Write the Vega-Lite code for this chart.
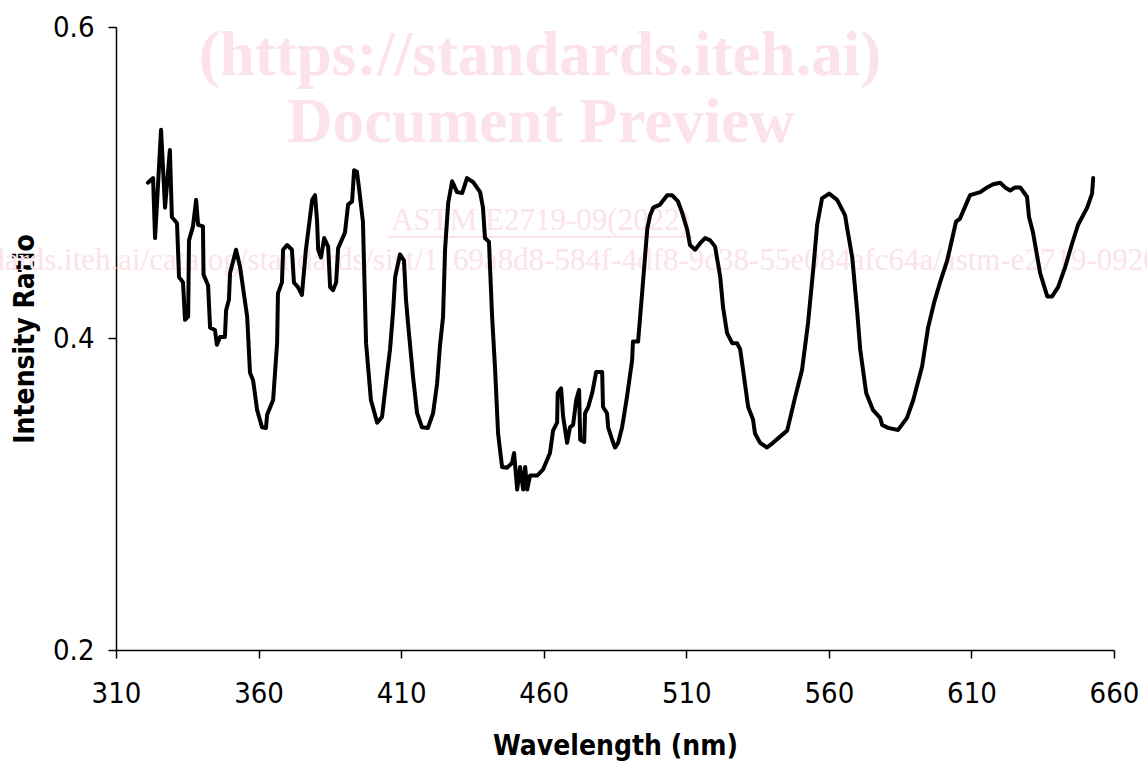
{
  "$schema": "https://vega.github.io/schema/vega-lite/v6.json",
  "width": 998,
  "height": 623,
  "autosize": "none",
  "padding": {"left": 116, "top": 27, "right": 33, "bottom": 111},
  "background": "white",
  "config": {
    "view": {"stroke": null},
    "axis": {
      "grid": false,
      "domainColor": "black",
      "domainWidth": 1.5,
      "tickColor": "black",
      "tickWidth": 1.5,
      "tickSize": 8,
      "labelColor": "black",
      "titleColor": "black",
      "labelFont": "DejaVu Sans Condensed, DejaVu Sans",
      "titleFont": "DejaVu Sans Condensed, DejaVu Sans",
      "labelFontSize": 29,
      "titleFontSize": 28,
      "titleFontWeight": "bold"
    }
  },
  "layer": [
    {
      "data": {"values": [
        {"t": "(https://standards.iteh.ai)", "wl": 458.7, "r": 0.5692},
        {"t": "Document Preview", "wl": 459.0, "r": 0.5262}
      ]},
      "mark": {"type": "text", "font": "Liberation Serif", "fontWeight": "bold", "fontSize": 63, "color": "#fbe3e9", "baseline": "alphabetic", "align": "center", "clip": false},
      "encoding": {
        "x": {"field": "wl", "type": "quantitative", "scale": {"domain": [310, 660]}},
        "y": {"field": "r", "type": "quantitative", "scale": {"domain": [0.2, 0.6]}},
        "text": {"field": "t"}
      }
    },
    {
      "data": {"values": [
        {"t": "ASTM E2719-09(2022)", "wl": 458.9, "r": 0.4697},
        {"t": "https://standards.iteh.ai/catalog/standards/sist/1169a8d8-584f-4df8-9c38-55e084afc64a/astm-e2719-092022", "wl": 452.2, "r": 0.444}
      ]},
      "mark": {"type": "text", "font": "Liberation Serif", "fontSize": 31, "color": "#fbe3e9", "baseline": "alphabetic", "align": "center", "clip": false},
      "encoding": {
        "x": {"field": "wl", "type": "quantitative"},
        "y": {"field": "r", "type": "quantitative"},
        "text": {"field": "t"}
      }
    },
    {
      "data": {"values": [{"a": 405.4, "b": 512.4, "r": 0.4652}]},
      "mark": {"type": "rule", "color": "#fbe3e9", "strokeWidth": 2},
      "encoding": {
        "x": {"field": "a", "type": "quantitative"},
        "x2": {"field": "b"},
        "y": {"field": "r", "type": "quantitative"}
      }
    },
    {
      "data": {"values": [
        {"wl": 321.2, "r": 0.500}, {"wl": 323.0, "r": 0.503}, {"wl": 323.7, "r": 0.4645}, {"wl": 325.8, "r": 0.534},
        {"wl": 327.2, "r": 0.484}, {"wl": 328.9, "r": 0.521}, {"wl": 329.6, "r": 0.478}, {"wl": 331.4, "r": 0.474},
        {"wl": 332.1, "r": 0.4395}, {"wl": 333.5, "r": 0.436}, {"wl": 334.2, "r": 0.412}, {"wl": 335.3, "r": 0.414},
        {"wl": 335.6, "r": 0.463}, {"wl": 337.0, "r": 0.472}, {"wl": 338.1, "r": 0.489}, {"wl": 338.8, "r": 0.473},
        {"wl": 340.5, "r": 0.472}, {"wl": 340.7, "r": 0.441}, {"wl": 342.3, "r": 0.434}, {"wl": 343.0, "r": 0.407},
        {"wl": 344.7, "r": 0.4055}, {"wl": 345.4, "r": 0.396}, {"wl": 346.5, "r": 0.401}, {"wl": 348.2, "r": 0.401},
        {"wl": 348.6, "r": 0.418}, {"wl": 349.6, "r": 0.425}, {"wl": 350.0, "r": 0.442}, {"wl": 352.1, "r": 0.457},
        {"wl": 353.5, "r": 0.446}, {"wl": 356.0, "r": 0.414}, {"wl": 357.0, "r": 0.378}, {"wl": 358.1, "r": 0.373},
        {"wl": 359.5, "r": 0.354}, {"wl": 361.2, "r": 0.343}, {"wl": 362.6, "r": 0.3426}, {"wl": 363.0, "r": 0.351},
        {"wl": 365.1, "r": 0.3605}, {"wl": 366.5, "r": 0.397}, {"wl": 366.8, "r": 0.429}, {"wl": 368.2, "r": 0.436},
        {"wl": 368.6, "r": 0.457}, {"wl": 370.0, "r": 0.460}, {"wl": 371.7, "r": 0.457}, {"wl": 372.4, "r": 0.436},
        {"wl": 373.8, "r": 0.433}, {"wl": 375.2, "r": 0.428}, {"wl": 376.6, "r": 0.457}, {"wl": 378.8, "r": 0.489},
        {"wl": 379.8, "r": 0.492}, {"wl": 380.5, "r": 0.476}, {"wl": 380.9, "r": 0.457}, {"wl": 381.9, "r": 0.452},
        {"wl": 383.0, "r": 0.4645}, {"wl": 384.4, "r": 0.459}, {"wl": 385.1, "r": 0.433}, {"wl": 386.1, "r": 0.431},
        {"wl": 387.2, "r": 0.436}, {"wl": 387.9, "r": 0.458}, {"wl": 390.3, "r": 0.468}, {"wl": 391.4, "r": 0.486},
        {"wl": 392.8, "r": 0.488}, {"wl": 393.5, "r": 0.508}, {"wl": 394.5, "r": 0.507}, {"wl": 395.2, "r": 0.497},
        {"wl": 396.6, "r": 0.475}, {"wl": 397.7, "r": 0.397}, {"wl": 399.4, "r": 0.3605}, {"wl": 401.6, "r": 0.346},
        {"wl": 403.3, "r": 0.3496}, {"wl": 405.1, "r": 0.378}, {"wl": 406.1, "r": 0.393}, {"wl": 407.2, "r": 0.418},
        {"wl": 407.9, "r": 0.4395}, {"wl": 409.6, "r": 0.454}, {"wl": 411.0, "r": 0.450}, {"wl": 411.7, "r": 0.425},
        {"wl": 412.4, "r": 0.410}, {"wl": 414.2, "r": 0.375}, {"wl": 415.6, "r": 0.352}, {"wl": 417.3, "r": 0.343},
        {"wl": 419.4, "r": 0.3426}, {"wl": 421.2, "r": 0.352}, {"wl": 422.6, "r": 0.371}, {"wl": 423.6, "r": 0.395},
        {"wl": 424.7, "r": 0.414}, {"wl": 425.4, "r": 0.457}, {"wl": 426.5, "r": 0.487}, {"wl": 427.9, "r": 0.501},
        {"wl": 429.6, "r": 0.494}, {"wl": 431.4, "r": 0.4934}, {"wl": 433.1, "r": 0.503}, {"wl": 435.2, "r": 0.5005},
        {"wl": 437.7, "r": 0.494}, {"wl": 438.7, "r": 0.484}, {"wl": 439.4, "r": 0.4645}, {"wl": 440.8, "r": 0.462},
        {"wl": 441.9, "r": 0.414}, {"wl": 442.9, "r": 0.382}, {"wl": 444.0, "r": 0.339}, {"wl": 445.4, "r": 0.3175},
        {"wl": 447.1, "r": 0.317}, {"wl": 448.9, "r": 0.320}, {"wl": 449.6, "r": 0.3265}, {"wl": 450.7, "r": 0.303},
        {"wl": 451.7, "r": 0.3175}, {"wl": 452.8, "r": 0.303}, {"wl": 453.5, "r": 0.3175}, {"wl": 454.2, "r": 0.303},
        {"wl": 455.2, "r": 0.312}, {"wl": 457.7, "r": 0.312}, {"wl": 459.8, "r": 0.316}, {"wl": 462.2, "r": 0.3265},
        {"wl": 463.3, "r": 0.341}, {"wl": 464.7, "r": 0.346}, {"wl": 464.9, "r": 0.365}, {"wl": 466.1, "r": 0.368},
        {"wl": 466.8, "r": 0.350}, {"wl": 468.2, "r": 0.333}, {"wl": 469.2, "r": 0.343}, {"wl": 470.3, "r": 0.3445},
        {"wl": 471.4, "r": 0.3605}, {"wl": 472.4, "r": 0.367}, {"wl": 472.8, "r": 0.335}, {"wl": 474.2, "r": 0.3336},
        {"wl": 474.5, "r": 0.352}, {"wl": 475.6, "r": 0.356}, {"wl": 477.0, "r": 0.365}, {"wl": 478.4, "r": 0.3785},
        {"wl": 480.5, "r": 0.3785}, {"wl": 480.8, "r": 0.356}, {"wl": 482.2, "r": 0.352}, {"wl": 482.6, "r": 0.343},
        {"wl": 484.0, "r": 0.335}, {"wl": 485.0, "r": 0.330}, {"wl": 486.1, "r": 0.333}, {"wl": 487.5, "r": 0.343},
        {"wl": 489.2, "r": 0.3625}, {"wl": 491.0, "r": 0.386}, {"wl": 491.3, "r": 0.398}, {"wl": 493.1, "r": 0.398},
        {"wl": 494.5, "r": 0.429}, {"wl": 496.3, "r": 0.470}, {"wl": 497.3, "r": 0.479}, {"wl": 498.4, "r": 0.484},
        {"wl": 500.8, "r": 0.486}, {"wl": 503.3, "r": 0.492}, {"wl": 505.0, "r": 0.492}, {"wl": 507.1, "r": 0.488},
        {"wl": 508.5, "r": 0.481}, {"wl": 510.3, "r": 0.470}, {"wl": 511.3, "r": 0.460}, {"wl": 513.1, "r": 0.457},
        {"wl": 514.8, "r": 0.461}, {"wl": 516.6, "r": 0.4645}, {"wl": 518.4, "r": 0.463}, {"wl": 520.1, "r": 0.459},
        {"wl": 521.9, "r": 0.4395}, {"wl": 522.9, "r": 0.420}, {"wl": 524.3, "r": 0.4035}, {"wl": 526.1, "r": 0.397},
        {"wl": 527.8, "r": 0.397}, {"wl": 528.9, "r": 0.393}, {"wl": 529.9, "r": 0.380}, {"wl": 531.7, "r": 0.356},
        {"wl": 533.4, "r": 0.348}, {"wl": 534.1, "r": 0.339}, {"wl": 535.9, "r": 0.333}, {"wl": 538.3, "r": 0.330},
        {"wl": 540.4, "r": 0.333}, {"wl": 542.9, "r": 0.337}, {"wl": 545.4, "r": 0.341}, {"wl": 548.2, "r": 0.3625},
        {"wl": 550.6, "r": 0.380}, {"wl": 552.7, "r": 0.410}, {"wl": 554.5, "r": 0.444}, {"wl": 555.9, "r": 0.473},
        {"wl": 557.6, "r": 0.490}, {"wl": 560.1, "r": 0.493}, {"wl": 562.9, "r": 0.489}, {"wl": 565.7, "r": 0.479},
        {"wl": 566.4, "r": 0.471}, {"wl": 568.2, "r": 0.452}, {"wl": 569.9, "r": 0.418}, {"wl": 571.0, "r": 0.393},
        {"wl": 573.1, "r": 0.365}, {"wl": 575.5, "r": 0.354}, {"wl": 578.0, "r": 0.349}, {"wl": 578.7, "r": 0.3445},
        {"wl": 580.8, "r": 0.3426}, {"wl": 584.3, "r": 0.3413}, {"wl": 587.4, "r": 0.349}, {"wl": 589.6, "r": 0.3605},
        {"wl": 592.7, "r": 0.382}, {"wl": 594.8, "r": 0.407}, {"wl": 596.9, "r": 0.423}, {"wl": 599.0, "r": 0.436},
        {"wl": 601.5, "r": 0.450}, {"wl": 604.6, "r": 0.475}, {"wl": 606.0, "r": 0.477}, {"wl": 608.8, "r": 0.489},
        {"wl": 609.5, "r": 0.492}, {"wl": 613.1, "r": 0.494}, {"wl": 615.5, "r": 0.497}, {"wl": 617.6, "r": 0.499},
        {"wl": 620.1, "r": 0.500}, {"wl": 621.8, "r": 0.497}, {"wl": 623.6, "r": 0.495}, {"wl": 625.3, "r": 0.497},
        {"wl": 627.1, "r": 0.497}, {"wl": 629.5, "r": 0.491}, {"wl": 630.2, "r": 0.478}, {"wl": 631.6, "r": 0.468},
        {"wl": 634.1, "r": 0.442}, {"wl": 636.6, "r": 0.427}, {"wl": 638.3, "r": 0.427}, {"wl": 640.4, "r": 0.433},
        {"wl": 642.9, "r": 0.446}, {"wl": 645.3, "r": 0.461}, {"wl": 647.4, "r": 0.473}, {"wl": 650.6, "r": 0.484},
        {"wl": 652.3, "r": 0.493}, {"wl": 652.7, "r": 0.503}
      ]},
      "mark": {"type": "line", "color": "black", "strokeWidth": 4, "strokeJoin": "round", "strokeCap": "round"},
      "encoding": {
        "x": {
          "field": "wl", "type": "quantitative",
          "scale": {"domain": [310, 660], "nice": false, "zero": false},
          "axis": {"title": "Wavelength (nm)", "values": [310, 360, 410, 460, 510, 560, 610, 660], "labelPadding": 21, "titlePadding": 24, "labelFlush": false}
        },
        "y": {
          "field": "r", "type": "quantitative",
          "scale": {"domain": [0.2, 0.6], "nice": false, "zero": false},
          "axis": {"title": "Intensity Ratio", "values": [0.2, 0.4, 0.6], "format": ".1f", "labelPadding": 14, "titlePadding": 13}
        }
      }
    }
  ]
}
